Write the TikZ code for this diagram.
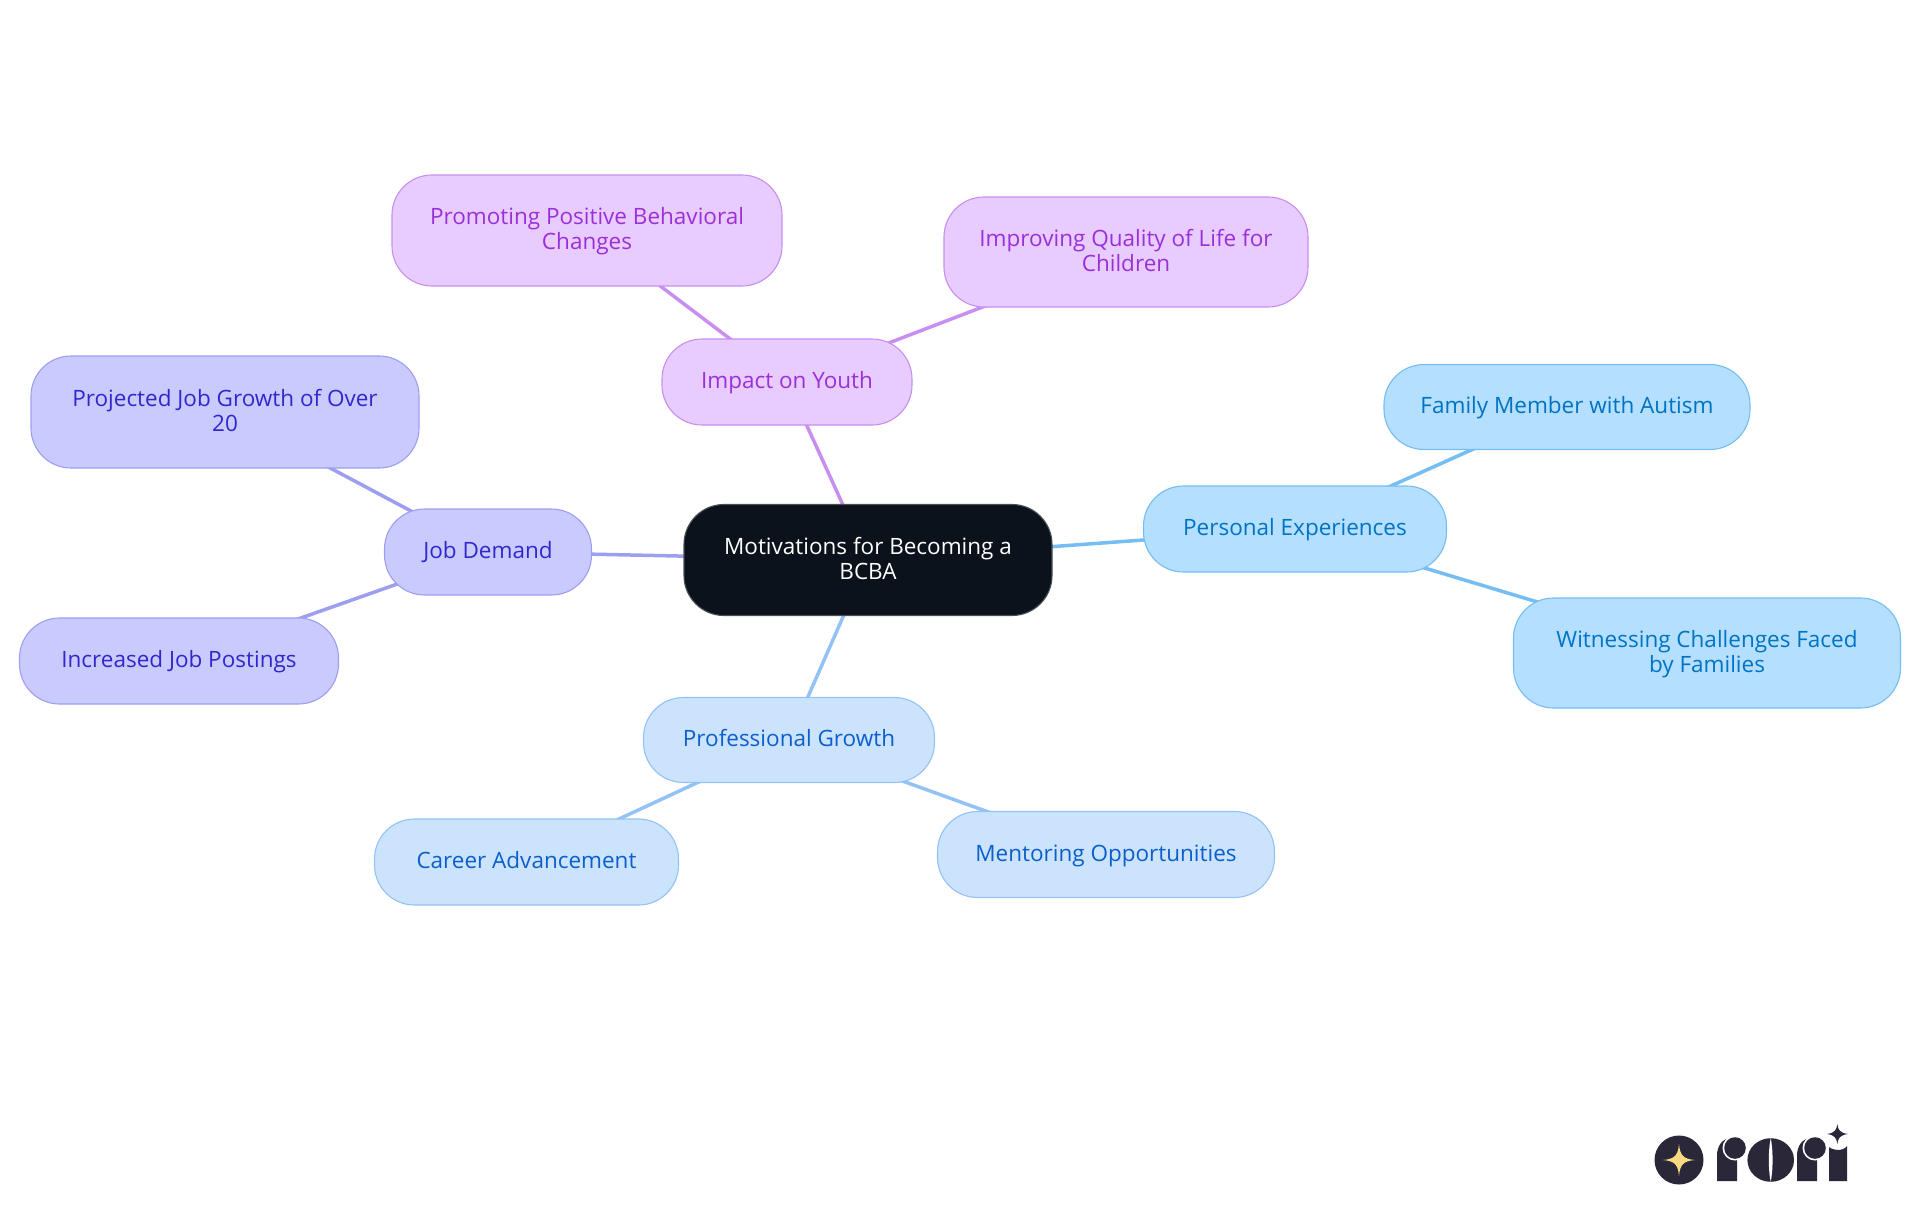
\documentclass[tikz,border=0pt]{standalone}
\usepackage{fontspec}
\setmainfont{Open Sans}
\usetikzlibrary{backgrounds}
\definecolor{impF}{HTML}{E8CBFF}\definecolor{impS}{HTML}{C88FF0}\definecolor{impT}{HTML}{9B30D9}
\definecolor{jobF}{HTML}{C9CBFF}\definecolor{jobS}{HTML}{9E9EF0}\definecolor{jobT}{HTML}{3525CD}
\definecolor{proF}{HTML}{CCE3FD}\definecolor{proS}{HTML}{93C2F5}\definecolor{proT}{HTML}{0B5FCC}
\definecolor{perF}{HTML}{B4DFFF}\definecolor{perS}{HTML}{75BDF2}\definecolor{perT}{HTML}{0073C4}
\definecolor{rootF}{HTML}{0B121B}\definecolor{logoD}{HTML}{2A2838}\definecolor{logoG}{HTML}{FBD982}
\newcommand\lft{\rule[-5.5pt]{0pt}{24.8pt}}
\tikzset{
 x=1pt,y=-1pt,
 mm/.style={rounded corners=40pt,line width=1.1pt,align=center,inner sep=0pt,
   font=\fontsize{22.5}{25}\selectfont},
 imp/.style={mm,draw=impS,fill=impF,text=impT},
 job/.style={mm,draw=jobS,fill=jobF,text=jobT},
 pro/.style={mm,draw=proS,fill=proF,text=proT},
 per/.style={mm,draw=perS,fill=perF,text=perT},
 root/.style={mm,draw=rootF!75!white,fill=rootF,text=white},
 lnk/.style={line width=3.5pt},
 sz/.style 2 args={minimum width=#1pt,minimum height=#2pt},
}
\begin{document}
\begin{tikzpicture}
\useasboundingbox (0,0) rectangle (1920,1215);
\node[root,sz={368}{111}] (c) at (868,560) {\lft Motivations for Becoming a\\\lft BCBA};
\node[imp,sz={250}{86}] (a) at (787,382) {\lft Impact on Youth};
\node[imp,sz={390}{111}] (a1) at (587,230.5) {\lft Promoting Positive Behavioral\\\lft Changes};
\node[imp,sz={364}{110}] (a2) at (1126,252) {\lft Improving Quality of Life for\\\lft Children};
\node[per,sz={303}{86}] (p) at (1295,529) {\lft Personal Experiences};
\node[per,sz={366}{85}] (p1) at (1567,407) {\lft Family Member with Autism};
\node[per,sz={387}{110}] (p2) at (1707,653) {\lft Witnessing Challenges Faced\\\lft by Families};
\node[job,sz={207}{86}] (j) at (488,552) {\lft Job Demand};
\node[job,sz={388}{112}] (j1) at (225,412) {\lft Projected Job Growth of Over\\\lft 20};
\node[job,sz={319}{86}] (j2) at (179,661) {\lft Increased Job Postings};
\node[pro,sz={291}{85}] (g) at (789,740) {\lft Professional Growth};
\node[pro,sz={304}{86}] (g1) at (526.5,862) {\lft Career Advancement};
\node[pro,sz={337}{86}] (g2) at (1106,854.5) {\lft Mentoring Opportunities};
\begin{scope}[on background layer]
\draw[lnk,impS] (c.center)--(a.center) (a.center)--(a1.center) (a.center)--(a2.center);
\draw[lnk,perS] (c.center)--(p.center) (p.center)--(p1.center) (p.center)--(p2.center);
\draw[lnk,jobS] (c.center)--(j.center) (j.center)--(j1.center) (j.center)--(j2.center);
\draw[lnk,proS] (c.center)--(g.center) (g.center)--(g1.center) (g.center)--(g2.center);
\end{scope}
% logo
\fill[logoD] (1679,1160) circle (24.5);
\fill[logoG] (1679,1144) .. controls (1680,1155) and (1683,1159) .. (1695,1160)
  .. controls (1683,1161) and (1680,1165) .. (1679,1176)
  .. controls (1678,1165) and (1675,1161) .. (1663,1160)
  .. controls (1675,1159) and (1678,1155) .. (1679,1144) -- cycle;
\foreach \dx in {0,80}{
 \fill[logoD] (1717+\dx,1181) -- (1717+\dx,1156) .. controls (1717+\dx,1146) and (1722+\dx,1138) .. (1732+\dx,1138)
   -- (1737+\dx,1138) -- (1737+\dx,1181) -- cycle;
 \fill[white] (1735+\dx,1148) circle (12.5);
 \fill[logoD] (1735+\dx,1148) circle (10.8);
}
\fill[logoD] (1770.7,1160) ellipse (23.3 and 21.8);
\fill[white] (1770.7,1138) .. controls (1773.2,1150) and (1773.2,1170) .. (1770.7,1182)
  .. controls (1768.2,1170) and (1768.2,1150) .. (1770.7,1138) -- cycle;
\fill[logoD] (1829,1181) -- (1829,1147) .. controls (1832,1150) and (1843,1152) .. (1847,1146) -- (1847,1181) -- cycle;
\fill[logoD] (1837.3,1124) .. controls (1838,1130) and (1840,1133) .. (1848,1134)
  .. controls (1840,1135) and (1838,1138) .. (1837.3,1144)
  .. controls (1836.6,1138) and (1834.6,1135) .. (1827,1134)
  .. controls (1834.6,1133) and (1836.6,1130) .. (1837.3,1124) -- cycle;
\end{tikzpicture}
\end{document}
